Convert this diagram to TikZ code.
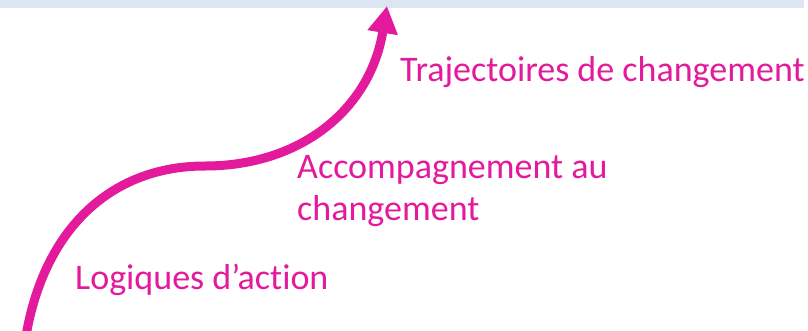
\documentclass[tikz,border=0pt]{standalone}
\usepackage{fontspec}
\setmainfont{Carlito}[Ligatures={NoCommon}]
\usetikzlibrary{arrows.meta}
\definecolor{mag}{RGB}{226,26,155}
\definecolor{band}{RGB}{220,230,242}
\tikzset{
  lbl/.style={anchor=base west, inner sep=0pt, text=mag, font=\fontsize{36}{42}\selectfont, align=left},
  path arrow/.style={draw=mag, line width=9pt, -{Triangle[width=29pt,length=27pt]}}
}
\begin{document}
\begin{tikzpicture}[x=1pt,y=-1pt]
\useasboundingbox (0,0) rectangle (808,330);
\fill[band] (0,0) rectangle (804,8);
\coordinate (s) at (26,336);
\coordinate (m) at (205,166);
\coordinate (t) at (387,6);
\draw[path arrow] (s) .. controls (44,230) and (110,166) .. (m)
  .. controls (300,166) and (370,110) .. (t);
\node[lbl] (traj) at (400,81.5) {Trajectoires de changement};
\node[lbl] (acc) at (297,220) {Accompagnement au\\changement};
\node[lbl] (log) at (75,289) {Logiques d’action};
\end{tikzpicture}
\end{document}
